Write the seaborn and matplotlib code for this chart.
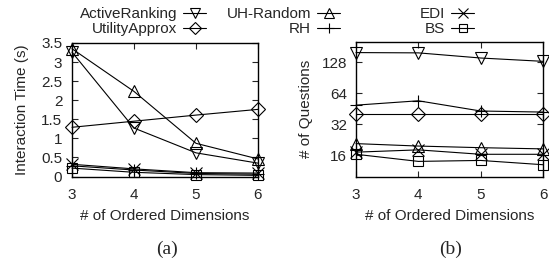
import numpy as np
import pandas as pd
import matplotlib
matplotlib.use("Agg")
import matplotlib.pyplot as plt
import seaborn as sns
from matplotlib.lines import Line2D
from matplotlib.ticker import FixedLocator, NullLocator

# ---------------- data ----------------
dims = [3, 4, 5, 6]
algorithms = ["ActiveRanking", "UtilityApprox", "UH-Random", "RH", "EDI", "BS"]

time_active = [3.26, 1.27, 0.62, 0.35]
time_utility = [1.29, 1.45, 1.61, 1.76]
time_uhrandom = [3.35, 2.23, 0.87, 0.46]
time_rh = [0.28, 0.17, 0.08, 0.06]
time_edi = [0.32, 0.20, 0.10, 0.09]
time_bs = [0.22, 0.11, 0.05, 0.03]

q_active = [158, 157, 140, 130]
q_utility = [40, 40, 40, 40]
q_uhrandom = [20.8, 19.7, 19.0, 18.5]
q_rh = [49, 54, 43, 42]
q_edi = [17.2, 18.1, 16.4, 16.4]
q_bs = [16.4, 14.0, 14.3, 13.0]

time_left_ticks = [0, 0.5, 1, 1.5, 2, 2.5, 3, 3.5]
time_left_labels = ["0", "0.5", "1", "1.5", "2", "2.5", "3", "3.5"]
q_ticks = [16, 32, 64, 128]
q_labels = ["16", "32", "64", "128"]
xlabel = "# of Ordered Dimensions"
ylabel_a = "Interaction Time (s)"
ylabel_b = "# of Questions"

times = {"ActiveRanking": time_active, "UtilityApprox": time_utility,
         "UH-Random": time_uhrandom, "RH": time_rh, "EDI": time_edi, "BS": time_bs}
questions = {"ActiveRanking": q_active, "UtilityApprox": q_utility,
             "UH-Random": q_uhrandom, "RH": q_rh, "EDI": q_edi, "BS": q_bs}

markers = {"ActiveRanking": "v", "UtilityApprox": "D", "UH-Random": "^",
           "RH": "+", "EDI": "x", "BS": "s"}
msizes = {"ActiveRanking": 8.5, "UtilityApprox": 7, "UH-Random": 8.5,
          "RH": 9, "EDI": 8, "BS": 7}

df_t = pd.DataFrame([(a, d, v) for a in algorithms for d, v in zip(dims, times[a])],
                    columns=["alg", "dim", "val"])
df_q = pd.DataFrame([(a, d, v) for a in algorithms for d, v in zip(dims, questions[a])],
                    columns=["alg", "dim", "val"])

# ---------------- style ----------------
sns.set_style("ticks")
plt.rcParams["font.family"] = ["Liberation Sans", "DejaVu Sans"]
plt.rcParams["font.size"] = 11

fig = plt.figure(figsize=(5.49, 2.68), dpi=100)
W, H = 549, 268
ax1 = fig.add_axes([72 / W, 1 - 176.5 / H, (258 - 72) / W, (176.5 - 43) / H])
ax2 = fig.add_axes([356 / W, 1 - 176.5 / H, (543 - 356) / W, (176.5 - 42) / H])


def draw(ax, df):
    for a in algorithms:
        sub = df[df.alg == a]
        sns.lineplot(data=sub, x="dim", y="val", ax=ax, color="black",
                     linewidth=0.8, marker=markers[a], markersize=msizes[a],
                     markerfacecolor="none", markeredgecolor="black",
                     markeredgewidth=0.8, legend=False, clip_on=False)
    ax.set_xlim(3, 6)
    ax.set_xticks(dims)
    ax.set_xticklabels([str(d) for d in dims])
    ax.set_xlabel(xlabel, fontsize=11, labelpad=5)
    ax.tick_params(direction="in", top=True, right=True, length=4, width=0.8,
                   labelsize=11)
    ax.tick_params(axis="x", pad=8)
    for s in ax.spines.values():
        s.set_linewidth(1.0)
        s.set_color("black")


draw(ax1, df_t)
ax1.set_ylim(0, 3.5)
ax1.set_yticks(time_left_ticks)
ax1.set_yticklabels(time_left_labels)
ax1.tick_params(axis="y", pad=7)
ax1.set_ylabel(ylabel_a, fontsize=11, labelpad=9)

draw(ax2, df_q)
ax2.set_yscale("log", base=2)
ax2.set_ylim(10, 200)
ax2.yaxis.set_major_locator(FixedLocator(q_ticks))
ax2.yaxis.set_minor_locator(NullLocator())
ax2.set_yticklabels(q_labels)
ax2.tick_params(axis="y", pad=6.5)
ax2.set_ylabel(ylabel_b, fontsize=11, labelpad=6)

# ---------------- legend (3 columns, text then marker) ----------------
def handle(a):
    return Line2D([], [], color="black", linewidth=0.8, marker=markers[a],
                  markersize=msizes[a] * 0.85, markerfacecolor="none",
                  markeredgecolor="black", markeredgewidth=0.8)

cols = [(["ActiveRanking", "UtilityApprox"], 206),
        (["UH-Random", "RH"], 340),
        (["EDI", "BS"], 474)]
for names, xr in cols:
    fig.legend([handle(a) for a in names], names, loc="upper right",
               bbox_to_anchor=(xr / W, 1 - 7 / H), markerfirst=False,
               frameon=False, ncol=1, fontsize=11, borderpad=0,
               handlelength=1.5, handletextpad=0.4, labelspacing=0.08,
               borderaxespad=0)

fig.text(167 / W, 1 - 249 / H, "(a)", ha="center", va="center",
         family=["Liberation Serif", "DejaVu Serif"], fontsize=14)
fig.text(451 / W, 1 - 249 / H, "(b)", ha="center", va="center",
         family=["Liberation Serif", "DejaVu Serif"], fontsize=14)

fig.savefig("out.png", dpi=100)
